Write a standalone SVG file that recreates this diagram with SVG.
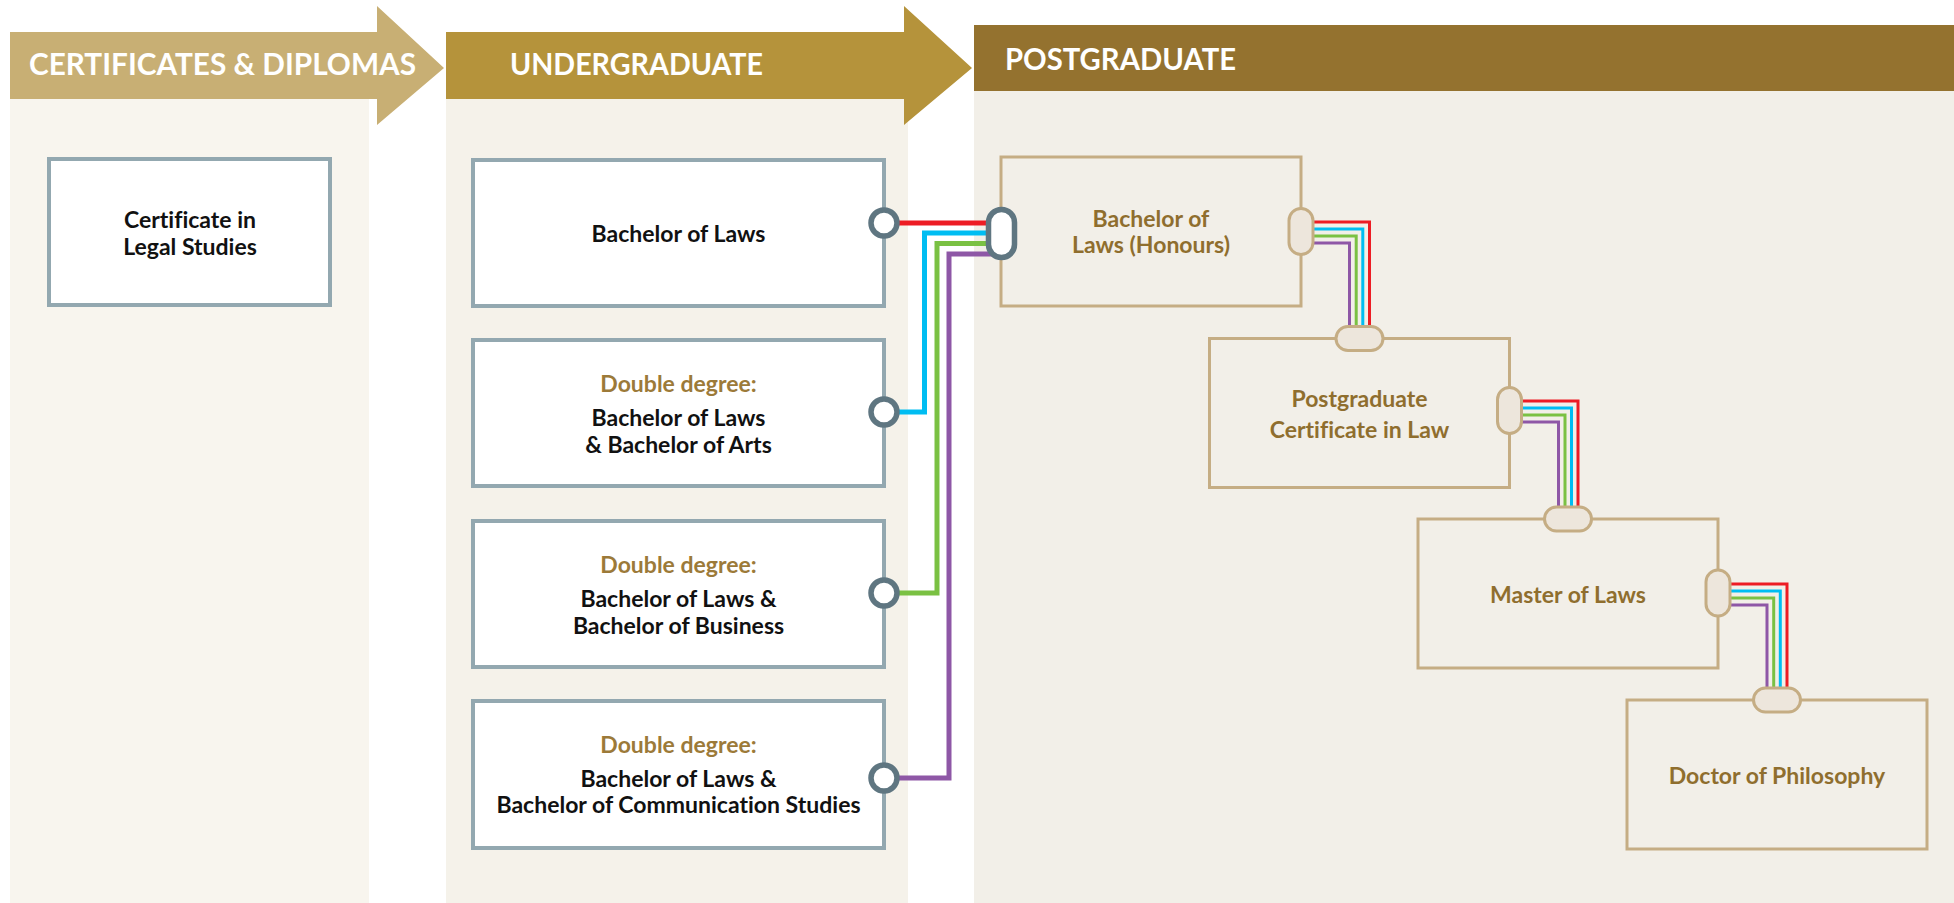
<svg xmlns="http://www.w3.org/2000/svg" width="1954" height="903" viewBox="0 0 1954 903">
<style>
.head{font-family:Lato,"Liberation Sans",sans-serif;font-weight:700;font-size:30px;fill:#ffffff}
.t{font-family:Lato,"Liberation Sans",sans-serif;font-weight:700;font-size:23px;text-anchor:middle;font-variant-ligatures:none}
.blk{fill:#111111}
.gold{fill:#9C7A39}
.pg{fill:#8F6E2E}
.ubox{fill:#ffffff;stroke:#93A8B0;stroke-width:4}
.pbox{fill:#F2EFE8;stroke:#C5AD84;stroke-width:3}
.port{fill:#ffffff;stroke:#5F7681;stroke-width:5.5}
.pill{fill:#EDE6DC;stroke:#C5AD84;stroke-width:3}
.ln{fill:none;stroke-width:5;stroke-linejoin:miter;stroke-linecap:butt}
.rl{fill:none;stroke-width:3;stroke-linejoin:miter;stroke-linecap:butt}
.r{stroke:#ED1C24}.b{stroke:#00BDF2}.g{stroke:#7AC143}.p{stroke:#8E57A6}
</style>
<rect width="1954" height="903" fill="#ffffff"/>
<g id="columns">
<rect x="10" y="99" width="359" height="804" fill="#F8F5EE"/>
<rect x="446" y="99" width="462" height="804" fill="#F5F2EA"/>
<rect x="974" y="25" width="980" height="878" fill="#F2EFE8"/>
</g>
<g id="banner-certificates">
<polygon points="10,32 377,32 377,6 444,68 377,125 377,99 10,99" fill="#C8AF74"/>
<text class="head" x="29" y="75" textLength="387" lengthAdjust="spacingAndGlyphs">CERTIFICATES &amp; DIPLOMAS</text>
</g>
<g id="banner-undergraduate">
<polygon points="446,32 904,32 904,6 972,68 904,125 904,99 446,99" fill="#B5933B"/>
<text class="head" x="510" y="75" textLength="253" lengthAdjust="spacingAndGlyphs">UNDERGRADUATE</text>
</g>
<g id="banner-postgraduate">
<rect x="974" y="25" width="980" height="66" fill="#94722F"/>
<text class="head" x="1005" y="70" textLength="231" lengthAdjust="spacingAndGlyphs">POSTGRADUATE</text>
</g>
<g id="connectors">
<path class="ln r" d="M884,223 H1000"/>
<path class="ln b" d="M884,412 H924.5 V233 H1000"/>
<path class="ln g" d="M884,593 H937 V243.5 H1000"/>
<path class="ln p" d="M884,778 H949 V254 H1000"/>
<path class="rl r" d="M1301,222 H1369.5 V338.5"/>
<path class="rl b" d="M1301,229 H1362.8 V338.5"/>
<path class="rl g" d="M1301,236 H1356.2 V338.5"/>
<path class="rl p" d="M1301,243 H1349.5 V338.5"/>
<path class="rl r" d="M1509.5,401 H1578 V519"/>
<path class="rl b" d="M1509.5,408 H1571.5 V519"/>
<path class="rl g" d="M1509.5,415 H1565 V519"/>
<path class="rl p" d="M1509.5,422 H1558.5 V519"/>
<path class="rl r" d="M1718,584 H1787 V700"/>
<path class="rl b" d="M1718,591 H1780.3 V700"/>
<path class="rl g" d="M1718,598 H1773.7 V700"/>
<path class="rl p" d="M1718,605 H1767 V700"/>
</g>
<g id="certificate-legal-studies">
<rect class="ubox" x="49" y="159" width="281" height="146"/>
<text class="t blk" x="190" y="228">Certificate in</text>
<text class="t blk" x="190" y="255">Legal Studies</text>
</g>
<g id="bachelor-laws">
<rect class="ubox" x="473" y="160" width="411" height="146"/>
<text class="t blk" x="678.5" y="242">Bachelor of Laws</text>
<circle class="port" cx="884" cy="223" r="13"/>
</g>
<g id="double-arts">
<rect class="ubox" x="473" y="340" width="411" height="146"/>
<text class="t gold" x="678.5" y="392">Double degree:</text>
<text class="t blk" x="678.5" y="426">Bachelor of Laws</text>
<text class="t blk" x="678.5" y="453">&amp; Bachelor of Arts</text>
<circle class="port" cx="884" cy="412" r="13"/>
</g>
<g id="double-business">
<rect class="ubox" x="473" y="521" width="411" height="146"/>
<text class="t gold" x="678.5" y="573">Double degree:</text>
<text class="t blk" x="678.5" y="607">Bachelor of Laws &amp;</text>
<text class="t blk" x="678.5" y="634">Bachelor of Business</text>
<circle class="port" cx="884" cy="593" r="13"/>
</g>
<g id="double-communication">
<rect class="ubox" x="473" y="701" width="411" height="147"/>
<text class="t gold" x="678.5" y="753">Double degree:</text>
<text class="t blk" x="678.5" y="787">Bachelor of Laws &amp;</text>
<text class="t blk" x="678.5" y="813">Bachelor of Communication Studies</text>
<circle class="port" cx="884" cy="778" r="13"/>
</g>
<g id="bachelor-laws-honours">
<rect class="pbox" x="1001" y="157" width="300" height="149"/>
<text class="t pg" x="1151" y="227">Bachelor of</text>
<text class="t pg" x="1151" y="253">Laws (Honours)</text>
<rect class="port" x="988.5" y="209.5" width="26" height="48" rx="13"/>
<rect class="pill" x="1289" y="208.5" width="24" height="46" rx="12"/>
</g>
<g id="pg-certificate-law">
<rect class="pbox" x="1209.5" y="338.5" width="300" height="149"/>
<text class="t pg" x="1359.5" y="407">Postgraduate</text>
<text class="t pg" x="1359.5" y="438">Certificate in Law</text>
<rect class="pill" x="1336" y="326.5" width="47" height="24" rx="12"/>
<rect class="pill" x="1497.5" y="387.5" width="24" height="46" rx="12"/>
</g>
<g id="master-laws">
<rect class="pbox" x="1418" y="519" width="300" height="149"/>
<text class="t pg" x="1568" y="603">Master of Laws</text>
<rect class="pill" x="1544.5" y="507" width="47" height="24" rx="12"/>
<rect class="pill" x="1706" y="570" width="24" height="46" rx="12"/>
</g>
<g id="doctor-philosophy">
<rect class="pbox" x="1627" y="700" width="300" height="149"/>
<text class="t pg" x="1777" y="784">Doctor of Philosophy</text>
<rect class="pill" x="1753.5" y="688" width="47" height="24" rx="12"/>
</g>
</svg>
